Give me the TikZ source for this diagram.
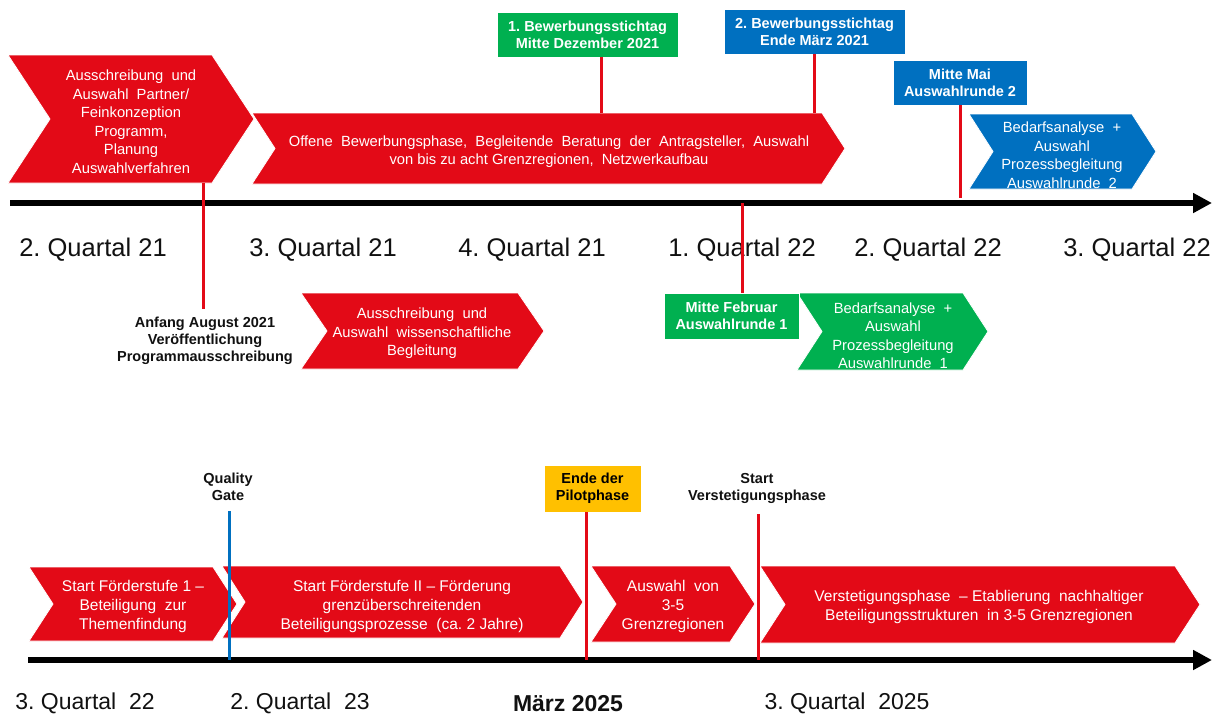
\documentclass[tikz,border=0pt]{standalone}
\usepackage{fontspec}
\setmainfont{Liberation Sans}
\usetikzlibrary{arrows.meta}
\frenchspacing
\definecolor{cred}{HTML}{E30A17}
\definecolor{cgreen}{HTML}{00B050}
\definecolor{cblue}{HTML}{0070C0}
\definecolor{cyellow}{HTML}{FFC000}
\definecolor{ctext}{HTML}{111111}
% chevron: name, x1, y1, x2 (top-right corner), y2, depth, colour
\newcommand{\mychevron}[7]{%
  \fill[#7, draw=white, line width=0.8pt] (#2,#3) -- (#4,#3) -- ({#4+#6},{(#3+#5)/2}) -- (#4,#5) -- (#2,#5) -- ({#2+#6},{(#3+#5)/2}) -- cycle;
  \coordinate (#1-t) at ({(#2+#4+#6)/2},#3);
  \coordinate (#1-b) at ({(#2+#4+#6)/2},#5);
}
\begin{document}
\begin{tikzpicture}[x=1pt,y=-1pt,
  chtext/.style={text=white, align=center, inner sep=0pt, font=\fontsize{14.75}{18.5}\selectfont},
  chtextb/.style={text=white, align=center, inner sep=0pt, font=\fontsize{15.5}{19}\selectfont},
  blabel/.style={text=ctext, align=center, inner sep=0pt, font=\bfseries\fontsize{14.5}{17}\selectfont},
  boxlabel/.style={align=center, inner sep=0pt, font=\bfseries\fontsize{14.5}{17}\selectfont, draw=white, line width=0.6pt},
  qlabel/.style={text=ctext, inner sep=0pt, font=\fontsize{25.5}{30}\selectfont},
  qlabelb/.style={text=ctext, inner sep=0pt, font=\fontsize{23}{28}\selectfont},
  redline/.style={draw=cred, line width=3pt},
  blueline/.style={draw=cblue, line width=3pt},
  axisline/.style={draw=black, line width=6pt, -{Triangle[length=19pt,width=19pt]}},
]
\useasboundingbox (0,0) rectangle (1220,716);
\fill[white] (0,0) rectangle (1220,716);

% ================= upper timeline =================
\coordinate (ax1s) at (10,203);
\coordinate (ax1e) at (1212,203);
\coordinate (ax1top) at (10,198);

\mychevron{A}{8}{55}{212}{183}{42}{cred}
\mychevron{B}{252}{113}{822}{184}{23}{cred}
\mychevron{C}{969}{114}{1132}{189}{24}{cblue}
\mychevron{D}{301}{293}{518}{369}{26}{cred}
\mychevron{E}{797}{293}{963}{370}{25}{cgreen}

\node[chtext] (tA) at (131,121.5) {Ausschreibung\ \ und\\Auswahl\ \ Partner/\\Feinkonzeption\\Programm,\\Planung\\Auswahlverfahren};
\node[chtext] (tB) at (549,151.5) {Offene\ \ Bewerbungsphase,\ \ Begleitende\ \ Beratung\ \ der\ \ Antragsteller,\ \ Auswahl\\von\ bis\ zu\ acht\ Grenzregionen,\ \ Netzwerkaufbau};
\node[chtext] (tC) at (1062,155) {Bedarfsanalyse\ \ +\\Auswahl\\Prozessbegleitung\\Auswahlrunde\ \ 2};
\node[chtext] (tD) at (422,333.5) {Ausschreibung\ \ und\\Auswahl\ \ wissenschaftliche\\Begleitung};
\node[chtext] (tE) at (893,335.5) {Bedarfsanalyse\ \ +\\Auswahl\\Prozessbegleitung\\Auswahlrunde\ \ 1};

\node[boxlabel, fill=cgreen, text=white, minimum width=181pt, minimum height=45pt] (g1) at (587.5,34.5) {1. Bewerbungsstichtag\\Mitte Dezember 2021};
\node[boxlabel, fill=cblue, text=white, minimum width=181pt, minimum height=45pt] (b2) at (814.5,31.5) {2. Bewerbungsstichtag\\Ende März 2021};
\node[boxlabel, fill=cblue, text=white, minimum width=134pt, minimum height=45pt] (mai) at (960,82.5) {Mitte Mai\\Auswahlrunde 2};
\node[boxlabel, fill=cgreen, text=white, minimum width=135pt, minimum height=46pt] (feb) at (731.5,316) {Mitte Februar\\Auswahlrunde 1};

\node[blabel] (aug) at (205,341) {Anfang August 2021\\Veröffentlichung\\Programmausschreibung};

\draw[axisline] (ax1s) -- (ax1e);

\draw[redline] ([xshift=13.5pt]g1.south) -- ([xshift=13.5pt]g1.south |- B-t);
\draw[redline] ([xshift=-0.5pt]b2.south) -- ([xshift=-0.5pt]b2.south |- B-t);
\draw[redline] (mai.south) -- (mai.south |- ax1top);
\draw[redline] ([xshift=-2pt]aug.north |- A-b) -- ([xshift=-2pt,yshift=8pt]aug.north);

\node[qlabel] (q1) at (93,249.5) {2. Quartal 21};
\node[qlabel] (q2) at (323,249.5) {3. Quartal 21};
\node[qlabel] (q3) at (532,249.5) {4. Quartal 21};
\node[qlabel] (q4) at (742,249.5) {1. Quartal 22};
\node[qlabel] (q5) at (928,249.5) {2. Quartal 22};
\node[qlabel] (q6) at (1137,249.5) {3. Quartal 22};
% red line over the label 1. Quartal 22
\draw[redline] ([xshift=10.5pt]feb.north |- ax1s) -- ([xshift=10.5pt]feb.north);

% ================= lower timeline =================
\coordinate (ax2s) at (28,660);
\coordinate (ax2e) at (1212,660);

\mychevron{F}{29}{567}{213}{641}{24}{cred}
\mychevron{G}{222}{566}{560}{638}{23}{cred}
\mychevron{H}{591}{566}{730}{642}{25}{cred}
\mychevron{I}{760}{566}{1175}{643}{25}{cred}

\node[chtextb] (tF) at (133,606) {Start Förderstufe 1 –\\Beteiligung\ \ zur\\Themenfindung};
\node[chtextb] (tG) at (402,606) {Start Förderstufe II – Förderung\\grenzüberschreitenden\\Beteiligungsprozesse\ \ (ca. 2 Jahre)};
\node[chtextb] (tH) at (673,606) {Auswahl\ \ von\\3-5\\Grenzregionen};
\node[chtextb] (tI) at (979,607) {Verstetigungsphase\ \ – Etablierung\ \ nachhaltiger\\Beteiligungsstrukturen\ \ in 3-5 Grenzregionen};

\node[blabel] (qg) at (228,487) {Quality\\Gate};
\node[boxlabel, fill=cyellow, text=black, minimum width=97pt, minimum height=47pt] (pilot) at (592.5,488.5) {Ende der\\Pilotphase};
\node[blabel] (sv) at (757,488) {Start\\Verstetigungsphase};

\draw[axisline] (ax2s) -- (ax2e);

\draw[blueline] ([xshift=1pt,yshift=-10pt]qg.south) -- ([xshift=1pt]qg.south |- ax2s);
\draw[redline] ([xshift=-6.5pt]pilot.south) -- ([xshift=-6.5pt]pilot.south |- ax2s);
\draw[redline] ([xshift=1pt,yshift=-11pt]sv.south) -- ([xshift=1pt]sv.south |- ax2s);

\node[qlabelb] (r1) at (85,703.5) {3. Quartal\ \ 22};
\node[qlabelb] (r2) at (300,703.5) {2. Quartal\ \ 23};
\node[qlabelb, font=\bfseries\fontsize{23}{28}\selectfont] (r3) at (568,703.5) {März 2025};
\node[qlabelb] (r4) at (847,703.5) {3. Quartal\ \ 2025};
\end{tikzpicture}
\end{document}
